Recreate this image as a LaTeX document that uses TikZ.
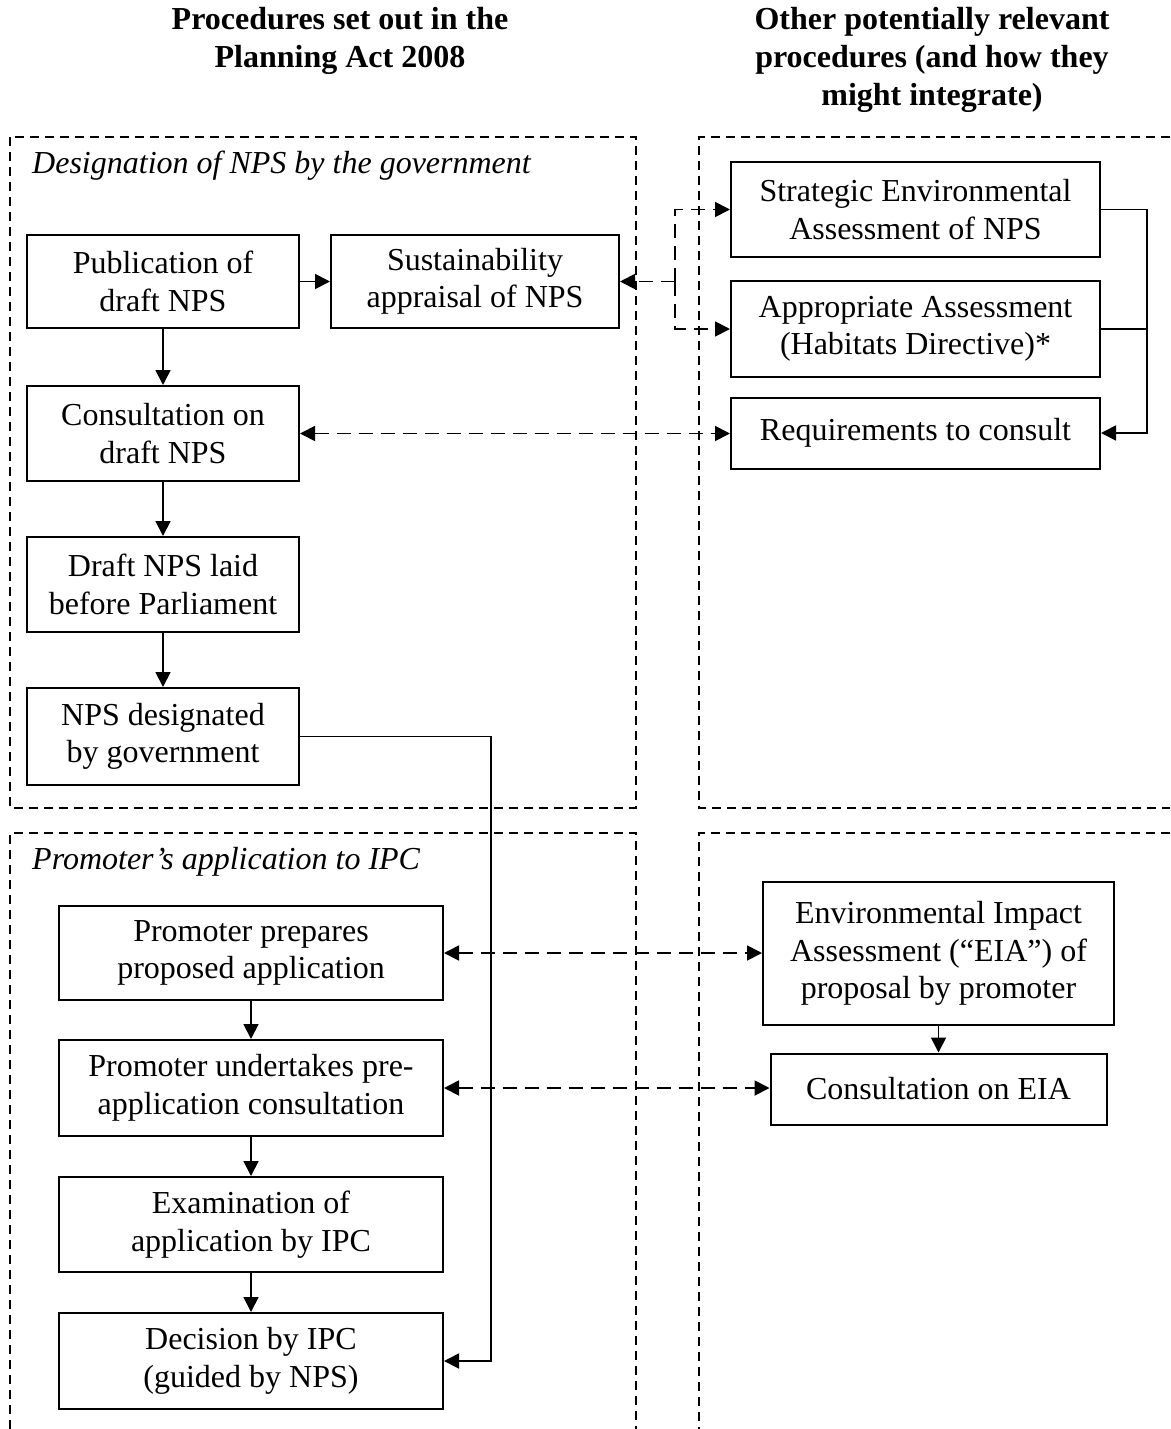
\documentclass[tikz,border=0pt]{standalone}
\usepackage{fontspec}
\setmainfont{Liberation Serif}
\usetikzlibrary{arrows.meta}
\begin{document}
\begin{tikzpicture}[x=1pt,y=-1pt,
  txt/.style={font=\fontsize{32}{37.5}\selectfont},
  box/.style={draw, line width=2pt, align=center, inner sep=0pt, txt},
  frame/.style={line width=1.8pt, dash pattern=on 9pt off 6pt},
  tip/.tip={Triangle[length=15pt,width=15pt]},
  arr/.style={line width=1.8pt, -tip},
  darr/.style={line width=1.8pt, dash pattern=on 14pt off 8pt, tip-tip},
  sarr/.style={line width=1.8pt, dash pattern=on 14pt off 8pt, -tip}
]
\useasboundingbox (0,0) rectangle (1170,1429);

% headings
\node[font=\fontsize{32}{38}\selectfont\bfseries, align=center] (h1) at (340,41) {Procedures set out in the\\Planning Act 2008};
\node[font=\fontsize{32}{38}\selectfont\bfseries, align=center] (h2) at (932,60) {Other potentially relevant\\procedures (and how they\\might integrate)};

% frames
\draw[frame] (10,137) rectangle (636,808);
\draw[frame] (1170,137) -- (699,137) -- (699,808) -- (1170,808);
\draw[frame] (10,1429) -- (10,833) -- (636,833) -- (636,1429);
\draw[frame] (1170,833) -- (699,833) -- (699,1429);

\node[font=\fontsize{32}{37.5}\selectfont\itshape, anchor=west, inner sep=0pt] (t1) at (32,166) {Designation of NPS by the government};
\node[font=\fontsize{32}{37.5}\selectfont\itshape, anchor=west, inner sep=0pt] (t2) at (32,862) {Promoter’s application to IPC};

% top-left boxes
\node[box, minimum width=272pt, minimum height=93pt] (pub) at (163,281.5) {Publication of\\draft NPS};
\node[box, minimum width=288pt, minimum height=93pt] (sus) at (475,281.5) {Sustainability\\appraisal of NPS};
\node[box, minimum width=272pt, minimum height=95pt] (cons) at (163,433.5) {Consultation on\\draft NPS};
\node[box, minimum width=272pt, minimum height=95pt] (laid) at (163,584.5) {Draft NPS laid\\before Parliament};
\node[box, minimum width=272pt, minimum height=97pt] (nps) at (163,736.5) {NPS designated\\by government};

% top-right boxes
\node[box, minimum width=369pt, minimum height=95pt] (sea) at (915.5,209.5) {Strategic Environmental\\Assessment of NPS};
\node[box, minimum width=369pt, minimum height=96pt] (aa) at (915.5,329) {Appropriate Assessment\\(Habitats Directive)*};
\node[box, minimum width=369pt, minimum height=71pt] (req) at (915.5,433) {Requirements to consult};

% bottom-left boxes
\node[box, minimum width=384pt, minimum height=94pt] (prep) at (251,953) {Promoter prepares\\proposed application};
\node[box, minimum width=384pt, minimum height=96pt] (under) at (251,1088) {Promoter undertakes pre-\\application consultation};
\node[box, minimum width=384pt, minimum height=95pt] (exam) at (251,1224.5) {Examination of\\application by IPC};
\node[box, minimum width=384pt, minimum height=96pt] (dec) at (251,1361) {Decision by IPC\\(guided by NPS)};

% bottom-right boxes
\node[box, minimum width=351pt, minimum height=143pt] (eia) at (938.5,953.5) {Environmental Impact\\Assessment (“EIA”) of\\proposal by promoter};
\node[box, minimum width=336pt, minimum height=71pt] (ceia) at (938.5,1089) {Consultation on EIA};

% helper coordinates
\coordinate (split) at (675,281.5);
\coordinate (rc) at (1147,0);
\coordinate (vc) at (491,0);

% solid connectors
\draw[arr] (pub) -- (sus);
\draw[arr] (pub) -- (cons);
\draw[arr] (cons) -- (laid);
\draw[arr] (laid) -- (nps);
\draw[arr] (prep) -- (under);
\draw[arr] (under) -- (exam);
\draw[arr] (exam) -- (dec);
\draw[arr] (eia) -- (ceia);
\draw[arr] (sea.east) -- (sea.east -| rc) |- (req.east);
\draw[line width=1.8pt] (aa.east) -- (aa.east -| rc);
\draw[arr] (nps.east) -- (nps.east -| vc) |- (dec.east);

% dashed connectors
\draw[sarr] (split) -- (sus.east);
\draw[sarr] (split) |- (sea.west);
\draw[sarr] (split) |- (aa.west);
\draw[darr] (cons.east) -- (cons.east -| req.west);
\draw[darr] (prep.east) -- (prep.east -| eia.west);
\draw[darr] (under.east) -- (under.east -| ceia.west);
\end{tikzpicture}
\end{document}
